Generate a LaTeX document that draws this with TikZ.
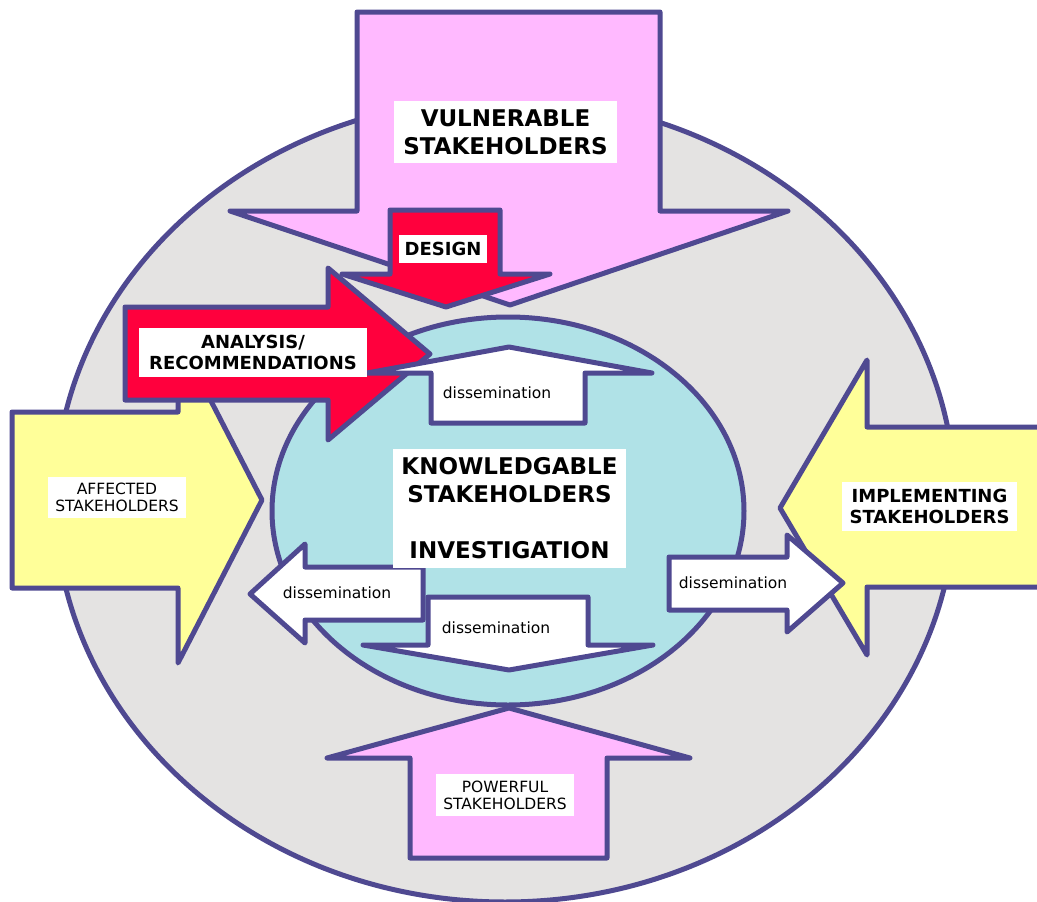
\documentclass[tikz,border=0pt]{standalone}
\usepackage{fontspec}
\setmainfont{DejaVu Sans}
\definecolor{edge}{HTML}{4F4991}
\definecolor{grayfill}{HTML}{E4E3E2}
\definecolor{cyanfill}{HTML}{B0E2E7}
\definecolor{pinkfill}{HTML}{FFB9FF}
\definecolor{redfill}{HTML}{FF003D}
\definecolor{yellowfill}{HTML}{FFFF99}
\tikzset{
  shapeline/.style={draw=edge, line width=5pt, line join=round},
  bigbold/.style={fill=white, inner sep=0pt, align=center, font=\fontsize{23}{28}\selectfont\bfseries},
  midbold/.style={fill=white, inner sep=0pt, align=center, font=\fontsize{18}{21}\selectfont\bfseries},
  plainlab/.style={fill=white, inner sep=0pt, align=center, font=\fontsize{15.5}{17}\selectfont},
  dislab/.style={inner sep=0pt, font=\fontsize{15.5}{17}\selectfont}
}
\begin{document}
\begin{tikzpicture}[x=1pt, y=-1pt]
\useasboundingbox (0,0) rectangle (1037,902);
\clip (0,0) rectangle (1037,902);
\fill[white] (0,0) rectangle (1037,902);
% outer ellipse
\draw[shapeline, fill=grayfill] (505,500) ellipse [x radius=450, y radius=402];
% inner ellipse
\draw[shapeline, fill=cyanfill] (508,511) ellipse [x radius=236, y radius=194];
% vulnerable arrow (down)
\draw[shapeline, fill=pinkfill] (357,12) -- (660,12) -- (660,211) -- (788,211) -- (510,305) -- (230,211) -- (357,211) -- cycle;
% design arrow (down)
\draw[shapeline, fill=redfill] (390,210) -- (500,210) -- (500,274) -- (550,274) -- (446,307) -- (342,274) -- (390,274) -- cycle;
% affected arrow (right)
\draw[shapeline, fill=yellowfill] (12,412) -- (178,412) -- (178,337) -- (262,500) -- (178,663) -- (178,588) -- (12,588) -- cycle;
% analysis arrow (right)
\draw[shapeline, fill=redfill] (125,307) -- (328,307) -- (328,268) -- (430,354) -- (328,440) -- (328,400) -- (125,400) -- cycle;
% implementing arrow (left)
\draw[shapeline, fill=yellowfill] (1050,427) -- (867,427) -- (867,360) -- (780,508) -- (867,655) -- (867,587) -- (1050,587) -- cycle;
% dissemination arrows
\draw[shapeline, fill=white] (431,423) -- (585,423) -- (585,373) -- (652,373) -- (509,347) -- (367,373) -- (431,373) -- cycle;
\draw[shapeline, fill=white] (423,567) -- (305,567) -- (305,544) -- (250,594) -- (305,643) -- (305,620) -- (423,620) -- cycle;
\draw[shapeline, fill=white] (428,597) -- (588,597) -- (588,645) -- (653,645) -- (509,670) -- (363,645) -- (428,645) -- cycle;
\draw[shapeline, fill=white] (669,557) -- (787,557) -- (787,535) -- (843,583) -- (787,632) -- (787,610) -- (669,610) -- cycle;
% powerful arrow (up)
\draw[shapeline, fill=pinkfill] (410,858) -- (607,858) -- (607,758) -- (690,758) -- (509,708) -- (327,758) -- (410,758) -- cycle;
% labels
\node[bigbold, minimum width=223pt, minimum height=62pt] (vul) at (505.5,132) {VULNERABLE\\STAKEHOLDERS};
\node[midbold, minimum width=88pt, minimum height=28pt] (des) at (443,249) {DESIGN};
\node[midbold, minimum width=228pt, minimum height=49pt] (ana) at (253,352.5) {ANALYSIS/\\RECOMMENDATIONS};
\node[plainlab, minimum width=138pt, minimum height=41pt] (aff) at (117,497.5) {AFFECTED\\STAKEHOLDERS};
\node[midbold, minimum width=175pt, minimum height=49pt] (imp) at (929.5,506.5) {IMPLEMENTING\\STAKEHOLDERS};
\node[bigbold, minimum width=233pt, minimum height=119pt] (kno) at (509.5,508.5) {KNOWLEDGABLE\\STAKEHOLDERS\\[28pt]INVESTIGATION};
\node[plainlab, minimum width=138pt, minimum height=42pt] (pow) at (505,795) {POWERFUL\\STAKEHOLDERS};
\node[dislab] (d1) at (497,393) {dissemination};
\node[dislab] (d2) at (337,593) {dissemination};
\node[dislab] (d3) at (496,628) {dissemination};
\node[dislab] (d4) at (733,583) {dissemination};
\end{tikzpicture}
\end{document}
